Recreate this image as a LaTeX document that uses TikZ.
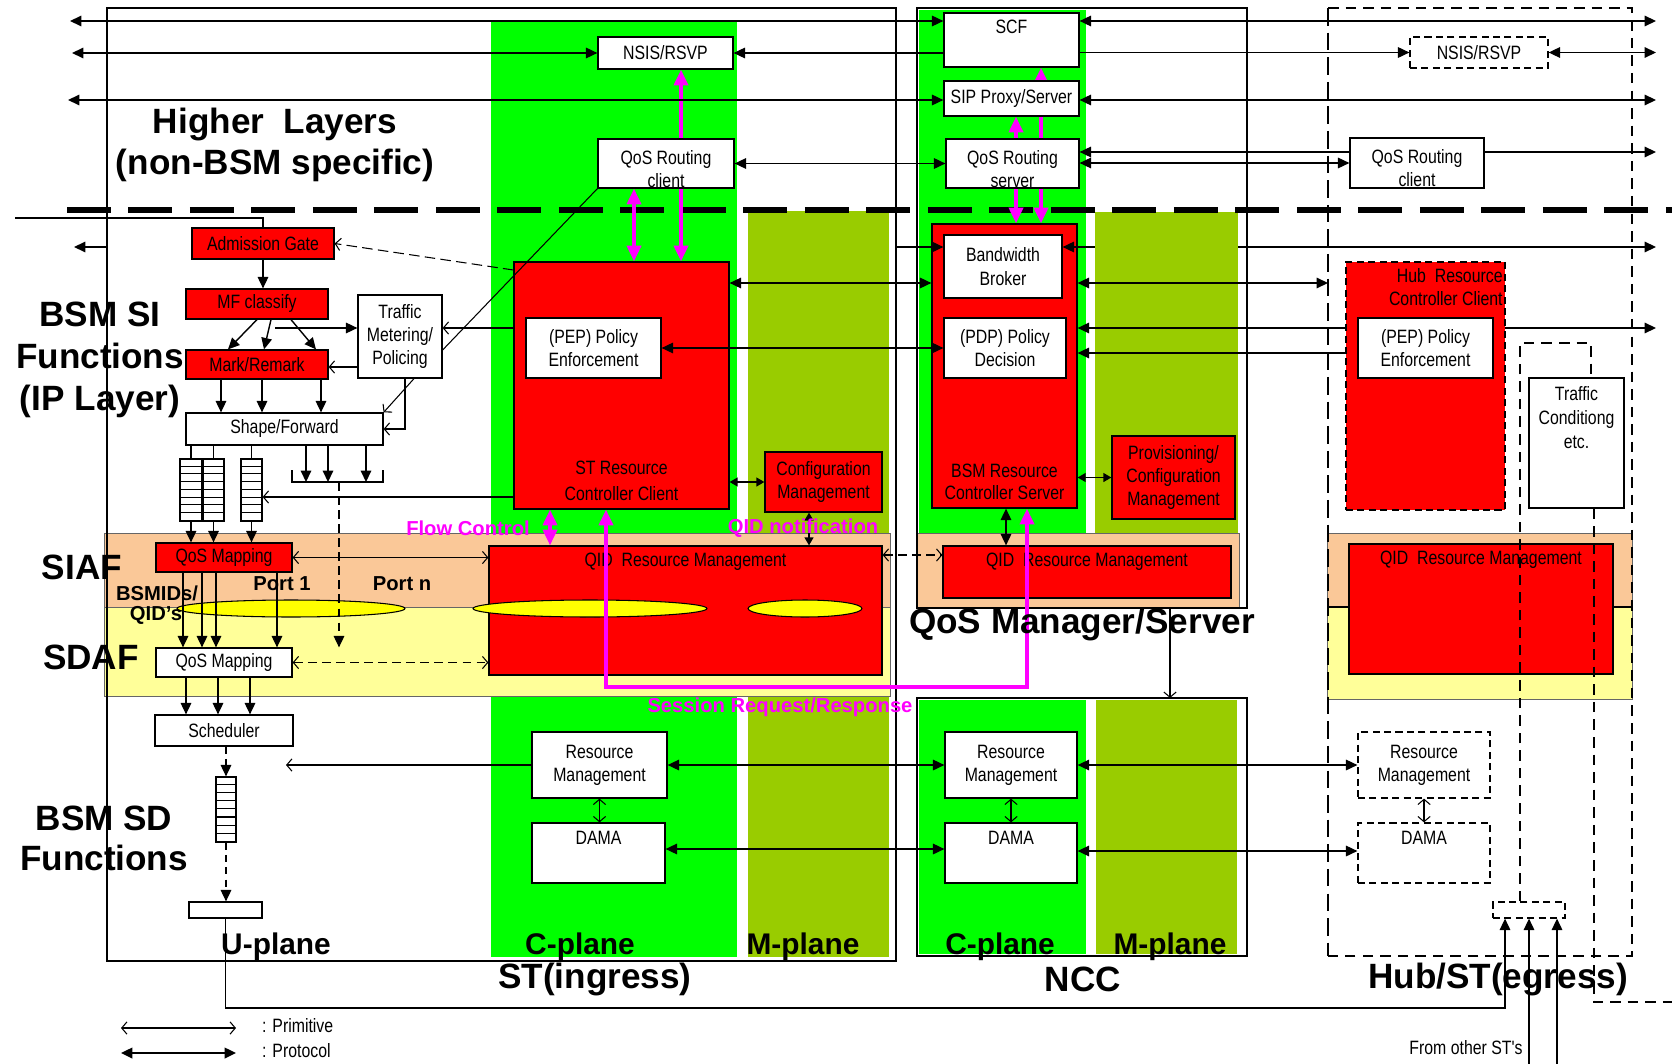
\documentclass[tikz,border=0pt]{standalone}
\usepackage{fontspec}
\setmainfont{Liberation Sans}
\newfontfamily\narrowfont[FakeStretch=0.82]{Liberation Sans}
\usepackage{tikz}
\usetikzlibrary{arrows.meta, positioning}
\definecolor{cplane}{RGB}{0,255,0}
\definecolor{mplane}{RGB}{153,204,0}
\definecolor{siaf}{RGB}{250,200,152}
\definecolor{sdaf}{RGB}{255,255,153}
\definecolor{portyel}{RGB}{255,255,0}
\definecolor{sigmag}{RGB}{255,0,255}
\newcommand{\boxfont}{\narrowfont\fontsize{11}{13.2}\selectfont}
\pgfdeclarelayer{bands}
\pgfdeclarelayer{behind}
\pgfsetlayers{bands,behind,main}

\begin{document}
\begin{tikzpicture}[x=0.02cm, y=-0.02cm,
  wbox/.style={draw, line width=0.7pt, fill=white, inner sep=0pt, font=\boxfont, align=center},
  rbox/.style={wbox, fill=red},
  dbox/.style={wbox, dash pattern=on 4pt off 2.5pt},
  sz/.style 2 args={minimum width=#1*0.02cm, minimum height=#2*0.02cm},
  lbl/.style={font=\boxfont, align=center},
  proto/.style={line width=0.8pt, >={Triangle[length=6.5pt,width=6pt]}},
  prim/.style={line width=0.6pt, >={Straight Barb[length=3pt,width=7pt]}},
  smallarr/.style={line width=0.8pt, >={Triangle[length=4.5pt,width=5pt]}},
  sig/.style={line width=2pt, draw=sigmag, >={Triangle[length=9pt,width=8pt]}},
  stframe/.style={line width=1.4pt},
  hubdash/.style={line width=0.7pt, dash pattern=on 6pt off 4pt},
  layerline/.style={line width=3pt, dash pattern=on 25pt off 10pt},
  biglab/.style={font=\bfseries\fontsize{20}{24}\selectfont, align=center},
  planelab/.style={font=\bfseries\fontsize{17}{19}\selectfont},
  portlab/.style={font=\bfseries\fontsize{11.5}{12.5}\selectfont},
  siglab/.style={font=\bfseries\fontsize{11.5}{12.5}\selectfont, text=sigmag}
]
\useasboundingbox (0,0) rectangle (1672,1064);

% planes and bands
\begin{pgfonlayer}{bands}
  \fill[white] (0,0) rectangle (1672,1064);
  \fill[cplane] (491,21) rectangle (737,957);
  \fill[cplane] (919,10) rectangle (1086,533);
  \fill[cplane] (919,700) rectangle (1086,954);
  \fill[mplane] (748,211) rectangle (889,957);
  \fill[mplane] (1095,212) rectangle (1238,533);
  \fill[mplane] (1096,700) rectangle (1237,954);
  \filldraw[fill=siaf, draw=black!60, line width=0.5pt] (104,533) rectangle (890,607);
  \filldraw[fill=sdaf, draw=black!60, line width=0.5pt] (104,607) rectangle (890,696);
  \filldraw[fill=siaf, draw=black!60, line width=0.5pt] (917,533) rectangle (1239,607);
  \filldraw[fill=siaf, draw=black!60, line width=0.5pt] (1327,533) rectangle (1632,607);
  \filldraw[fill=sdaf, draw=black!60, line width=0.5pt] (1327,607) rectangle (1632,699);
  \draw[line width=1.5pt] (1327,607) -- (1632,607);
  % frames
  \draw[stframe] (107,8) rectangle (896,961);
  \draw[stframe] (917,8) rectangle (1247,608);
  \draw[stframe] (917,698) rectangle (1247,956);
  \draw[line width=1.4pt, dash pattern=on 10pt off 4pt] (1328,8) -- (1328,956);
  \draw[hubdash] (1328,8) -- (1632,8) -- (1632,956) -- (1328,956);
  \draw[layerline] (67,210) -- (1672,210);
\end{pgfonlayer}

% free ends
\coordinate (lA) at (70,21);
\coordinate (lB) at (72,53);
\coordinate (lC) at (68,100);
\coordinate (lD) at (74,247);
\coordinate (stL) at (107,247);
\coordinate (stR) at (896,247);
\coordinate (lE) at (286,765);
\coordinate (lF) at (15,218);
\coordinate (rA) at (1656,21);
\coordinate (rB) at (1656,52.5);
\coordinate (rC) at (1656,100);
\coordinate (rD) at (1656,152);
\coordinate (rE) at (1656,247);
\coordinate (rF) at (1656,328);
\coordinate (olvL) at (1095,247);
\coordinate (olvR) at (1238,247);
\coordinate (hubL) at (1328,283);
\coordinate (nccA) at (1170,608);
\coordinate (nccB) at (1170,698);
\coordinate (mfsplit) at (275,328);
\coordinate (brkL) at (292,482);
\coordinate (brkR) at (383,482);
\coordinate (brkM) at (339,482);
\coordinate (sessL) at (606,687);
\coordinate (sessR) at (1027,687);
\coordinate (turnH) at (1505,1008);
\coordinate (inB) at (1529,1064);
\coordinate (inC) at (1557,1064);
\coordinate (tcA) at (1520,343);
\coordinate (tcB) at (1591,343);
\coordinate (tcC) at (1594,1002);
\coordinate (tcD) at (1672,1002);

% higher layers
\node[wbox, sz={135}{32}] (nsis) at (665.5,53) {NSIS/RSVP};
\node[wbox, sz={136}{49}, label={[lbl, yshift=-3pt]center:QoS Routing\\client}] (qrc) at (666,163.5) {};
\node[wbox, sz={135}{54}, label={[lbl, anchor=north, inner sep=4pt]north:SCF}] (scf) at (1011.5,40) {};
\node[wbox, sz={135}{35}] (sip) at (1011.5,98.5) {SIP Proxy/Server};
\node[wbox, sz={133}{49}, label={[lbl, yshift=-3pt]center:QoS Routing\\server}] (qrs) at (1012.5,163.5) {};
\node[dbox, sz={138}{31}] (hnsis) at (1479,52.5) {NSIS/RSVP};
\node[wbox, sz={134}{50}, label={[lbl, yshift=-3pt]center:QoS Routing\\client}] (hqrc) at (1417,163) {};

% SI functions
\node[rbox, sz={142}{31}] (adm) at (263,243.5) {Admission Gate};
\node[rbox, sz={142}{30}] (mfc) at (257,304) {MF classify};
\node[wbox, sz={84}{83}] (tmp) at (400,336.5) {Traffic\\Metering/\\Policing};
\node[rbox, sz={142}{29}] (mark) at (257,364.5) {Mark/Remark};
\node[wbox, sz={197}{32}] (shape) at (284.5,429) {Shape/Forward};

% ST control
\node[rbox, sz={215}{247}, label={[lbl, font=\narrowfont\fontsize{11}{14.7}\selectfont, anchor=south, inner sep=5pt]south:ST Resource\\Controller Client}] (strc) at (621.5,385.5) {};
\node[wbox, sz={135}{60}] (pep) at (593.5,348) {(PEP) Policy\\Enforcement};
\node[rbox, sz={117}{60}] (cfg) at (823.5,482) {Configuration\\Management};
\node[rbox, sz={393}{129}, label={[lbl, anchor=north, inner sep=4pt]north:QID\ \ Resource Management}] (qidst) at (685.5,610.5) {};

% NCC
\node[rbox, sz={145}{284}, label={[lbl, font=\narrowfont\fontsize{11}{12.5}\selectfont, anchor=south, inner sep=5pt]south:BSM Resource\\Controller Server}] (bsmrc) at (1004.5,366) {};
\node[wbox, sz={118}{63}] (bb) at (1003,266.5) {Bandwidth\\Broker};
\node[wbox, sz={122}{60}] (pdp) at (1005,348) {(PDP) Policy\\Decision};
\node[rbox, sz={123}{83}] (prov) at (1173.5,477.5) {Provisioning/\\Configuration\\Management};
\node[rbox, sz={288}{52}, label={[lbl, anchor=north, inner sep=4pt]north:QID\ \ Resource Management}] (qidncc) at (1087,572) {};

% Hub
\node[rbox, dash pattern=on 4pt off 2.5pt, sz={159}{248}, label={[lbl, align=right, anchor=north east, inner xsep=1.5pt, inner ysep=4pt]north east:Hub\ \ Resource\\Controller Client}] (hrc) at (1425.5,386) {};
\node[wbox, sz={135}{60}] (hpep) at (1425.5,348) {(PEP) Policy\\Enforcement};
\node[wbox, sz={95}{130}, label={[lbl, font=\narrowfont\fontsize{11}{13.6}\selectfont, anchor=north, inner sep=5pt]north:Traffic\\Conditiong\\etc.}] (tce) at (1576.5,443) {};
\node[rbox, sz={264}{130}, label={[lbl, anchor=north, inner sep=4pt]north:QID\ \ Resource Management}] (qidhub) at (1481,609) {};
\node[dbox, sz={132}{66}] (hrm) at (1424,765) {Resource\\Management};
\node[dbox, sz={132}{60}, label={[lbl, anchor=north, inner sep=5pt]north:DAMA}] (hdama) at (1424,853) {};
\node[dbox, sz={72}{16}] (hsmall) at (1529,910) {};

% SD side
\node[wbox, sz={132}{66}] (nrm) at (1011,765) {Resource\\Management};
\node[wbox, sz={132}{60}, label={[lbl, anchor=north, inner sep=5pt]north:DAMA}] (ndama) at (1011,853) {};
\node[wbox, sz={135}{66}] (srm) at (599.5,765) {Resource\\Management};
\node[wbox, sz={133}{60}, label={[lbl, anchor=north, inner sep=5pt]north:DAMA}] (sdama) at (598.5,853) {};

% U-plane
\node[rbox, sz={136}{29}] (qmsi) at (224,557.5) {QoS Mapping};
\node[wbox, sz={136}{29}] (qmsd) at (224,662.5) {QoS Mapping};
\node[wbox, sz={138}{31}] (sched) at (224,730.5) {Scheduler};
\foreach \qn/\qx/\qw in {q1/191/22, q2/213.5/21, q3/251.5/21} {
  \node[wbox, sz={\qw}{62}] (\qn) at (\qx,490) {};
  \foreach \k in {1,...,7} \draw[line width=0.6pt] (\qn.north west) ++(0,\k*7.75) -- ++(\qw,0);
}
\node[wbox, sz={20}{65}] (q4) at (226,809.5) {};
\foreach \k in {1,...,7} \draw[line width=0.6pt] (q4.north west) ++(0,\k*8.125) -- ++(20,0);
\node[wbox, sz={73}{16}] (outbox) at (225.5,910) {};

% ports
\filldraw[fill=portyel, line width=0.6pt] (291,608.5) ellipse [x radius=2.28cm, y radius=0.17cm];
\filldraw[fill=portyel, line width=0.6pt] (590,608.5) ellipse [x radius=2.34cm, y radius=0.17cm];
\filldraw[fill=portyel, line width=0.6pt] (805,608.5) ellipse [x radius=1.14cm, y radius=0.17cm];

% connectors hidden behind boxes
\begin{pgfonlayer}{behind}
  \draw[sig,<->] (nsis.south -| 681,0) -- (strc.north -| 681,0);
  \draw[sig,<->] (sip.south -| 1016,0) -- (bsmrc.north -| 1016,0);
  \draw[sig,<->] (scf.south -| 1041,0) -- (bsmrc.north -| 1041,0);
  \draw[proto,<->] (qrs.east |- rD) -- (rD);
  \draw[proto,<->] (bsmrc.east |- rF) -- (rF);
\end{pgfonlayer}

% protocol rows
\draw[proto,<->] (lA) -- (lA -| scf.west);
\draw[proto,<->] (lB) -- (nsis.west);
\draw[proto,<->] (lC) -- (lC -| sip.west);
\draw[proto,<-] (lD) -- (stL);
\draw[proto,<-] (nsis.east) -- (nsis.east -| scf.west);
\draw[proto,<->] (qrc.east) -- (qrs.west);
\draw[proto,->] (stR) -- (stR -| bb.west);
\draw[proto,<->] (strc.east |- hubL) -- (bsmrc.west |- hubL);
\draw[proto,<->] (pep.east) -- (pdp.west);
\draw[proto,<->] (scf.east |- rA) -- (rA);
\draw[proto,->] (scf.east |- hnsis.west) -- (hnsis.west);
\draw[proto,<->] (hnsis.east) -- (rB);
\draw[proto,<->] (sip.east |- rC) -- (rC);
\draw[proto,<->] (qrs.east |- hqrc.west) -- (hqrc.west);
\draw[proto,<-] (bb.east |- olvL) -- (olvL);
\draw[proto,->] (olvR) -- (rE);
\draw[proto,<->] (bsmrc.east |- hubL) -- (hubL);
\draw[proto,<-] (bsmrc.east |- 0,353) -- (hrc.west |- 0,353);
\draw[proto,<->] (srm.east) -- (nrm.west);
\draw[proto,<->] (sdama.east |- 0,849) -- (ndama.west |- 0,849);
\draw[proto,<->] (nrm.east) -- (hrm.west);
\draw[proto,<->] (ndama.east |- 0,851) -- (hdama.west |- 0,851);
\draw[prim,->] (srm.west) -- (lE);
\draw[prim,<->] (srm.south) -- (srm.south |- sdama.north);
\draw[prim,<->] (nrm.south) -- (nrm.south |- ndama.north);
\draw[prim,<->] (hrm.south) -- (hrm.south |- hdama.north);

% SI functions
\draw[line width=0.6pt] (lF) -| (adm.north);
\draw[proto,->] (adm.south) -- (adm.south |- mfc.north);
\foreach \a/\b in {257/228, 271/264, 291/316}
  \draw[proto,->] (mfc.south -| \a,0) -- (mark.north -| \b,0);
\draw[proto,->] (mfsplit) -- (mfsplit -| tmp.west);
\draw[prim,->] (tmp.west |- 0,367) -- (mark.east |- 0,367);
\foreach \a in {221,262,321}
  \draw[proto,->] (mark.south -| \a,0) -- (shape.north -| \a,0);
\draw[prim,->] (tmp.south -| 414,0) -- (shape.north east);
\draw[prim,->] (tmp.south -| 405,0) |- (shape.east);
\draw[prim,->] (strc.west |- 0,328) -- (tmp.east |- 0,328);
\draw[prim,->, dash pattern=on 6pt off 3pt] (strc.west |- 0,270) -- (adm.east);
\draw[line width=0.6pt] (qrc.south west) -- (tmp.east |- 0,350);

% U-plane flow
\foreach \q in {q1,q2,q3} {
  \draw[line width=0.6pt] (shape.south -| \q.north) -- (\q.north);
  \draw[proto,->] (\q.south) -- (\q.south |- qmsi.north);
}
\foreach \a in {306,328,366}
  \draw[proto,->] (shape.south -| \a,0) -- (brkL -| \a,0);
\draw[line width=0.7pt] (brkL) ++(0,-12) -- (brkL) -- (brkR) -- ++(0,-12);
\draw[proto,->, dash pattern=on 5pt off 3pt] (brkM) -- (brkM |- qmsd.north);
\draw[prim,->] (strc.west |- 0,497) -- (q3.east |- 0,497);
\draw[prim,<->] (qmsi.east) -- (qmsi.east -| qidst.west);
\foreach \a in {183,202,216,277}
  \draw[proto,->] (qmsi.south -| \a,0) -- (qmsd.north -| \a,0);
\draw[prim,<->, dash pattern=on 5pt off 3pt] (qmsd.east) -- (qmsd.east -| qidst.west);
\foreach \a in {186,218,250}
  \draw[proto,->] (qmsd.south -| \a,0) -- (sched.north -| \a,0);
\draw[proto,->, dash pattern=on 4pt off 3pt] (sched.south -| q4.north) -- (q4.north);
\draw[proto,->, dash pattern=on 4pt off 3pt] (q4.south) -- (q4.south |- outbox.north);
\draw[proto,->] (outbox.south) |- (turnH) -- (turnH |- hsmall.south);
\foreach \c in {inB, inC}
  \draw[proto,->] (\c) -- (\c |- hsmall.south);

% control/management links
\draw[prim,<->, dash pattern=on 5pt off 3pt] (qidst.east |- 0,555) -- (qidncc.west |- 0,555);
\draw[smallarr,<->] (strc.east |- cfg.west) -- (cfg.west);
\draw[smallarr,<->] (bsmrc.east |- prov.west) -- (prov.west);
\draw[smallarr,<->] (cfg.south -| 809,0) -- (qidst.north -| 809,0);
\draw[proto,<->] (bsmrc.south -| 1006,0) -- (qidncc.north -| 1006,0);
\draw[prim,->] (nccA) -- (nccB);

% signalling (magenta)
\draw[sig,<->] (qrc.south -| 634,0) -- (strc.north -| 634,0);
\draw[sig,<->] (strc.south -| 550,0) -- (qidst.north -| 550,0);
\draw[sig,<->] (sessL |- strc.south) -- (sessL) -- (sessR) -- (sessR |- bsmrc.south);

% hub traffic conditioning path
\draw[hubdash] (tcA |- hsmall.north) -- (tcA) -- (tcB) -- (tcB |- tce.north);
\draw[hubdash] (tcC |- tce.south) -- (tcC) -- (tcD);

% labels
\node[biglab, font=\bfseries\fontsize{20}{23.2}\selectfont] (hilay) at (275,145) {Higher\ \ Layers\\(non-BSM specific)};
\node[biglab] (bsmsi) at (100,360) {BSM SI\\Functions\\(IP Layer)};
\node[biglab] (siaflab) at (82,567) {SIAF};
\node[biglab] (sdaflab) at (91,657) {SDAF};
\node[biglab, font=\bfseries\fontsize{20}{22.7}\selectfont] (bsmsd) at (104,838) {BSM SD\\Functions};
\node[biglab, font=\bfseries\fontsize{20}{22}\selectfont] (qmslab) at (1082,624) {QoS Manager/Server};
\node[biglab] (stlab) at (595,979) {ST(ingress)};
\node[biglab] (ncclab) at (1083,979) {NCC};
\node[biglab] (hublab) at (1498,979) {Hub/ST(egress)};
\node[planelab] (uplab) at (276,947) {U-plane};
\node[planelab] (cpst) at (580,947) {C-plane};
\node[planelab] (mpst) at (803,947) {M-plane};
\node[planelab] (cpncc) at (1000,947) {C-plane};
\node[planelab] (mpncc) at (1170,947) {M-plane};
\node[portlab] (port1) at (282,584) {Port 1};
\node[portlab] (portn) at (402,584) {Port n};
\node[portlab] (bsmids) at (157,593) {BSMIDs/};
\node[portlab] (qids) at (156,615) {QID's};
\node[siglab] (flowlab) at (468,528) {Flow Control};
\node[siglab] (qidlab) at (803,528) {QID notification};
\node[siglab] (sesslab) at (780,707) {Session Request/Response};
\node[font=\boxfont] (otherst) at (1466,1048) {From other ST's};

% legend
\coordinate (legA) at (121,1028);
\coordinate (legB) at (236,1028);
\coordinate (legC) at (121,1053);
\coordinate (legD) at (236,1053);
\draw[prim,<->] (legA) -- (legB);
\draw[proto,<->, line width=1.2pt] (legC) -- (legD);
\node[font=\boxfont, anchor=west] (legprim) at (256,1026) {: Primitive};
\node[font=\boxfont, anchor=west] (legprot) at (256,1051) {: Protocol};

\end{tikzpicture}
\end{document}
